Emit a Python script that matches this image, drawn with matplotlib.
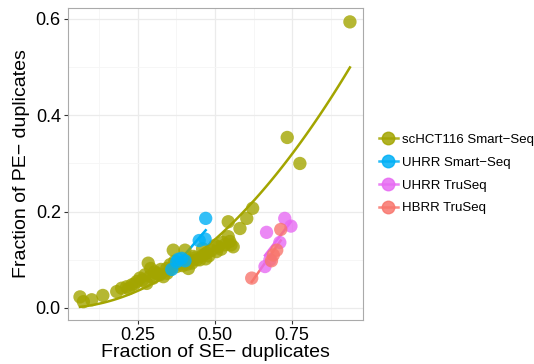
import matplotlib
matplotlib.use("Agg")
import matplotlib.pyplot as plt
from matplotlib.lines import Line2D
import numpy as np

plt.rcParams["font.family"] = ["Liberation Sans", "DejaVu Sans"]

# duplicate fractions per library: x = single-end, y = paired-end
hct_se = [0.063, 0.074, 0.101, 0.137, 0.182, 0.198, 0.214, 0.231, 0.247, 0.257,
          0.274, 0.279, 0.284, 0.300, 0.311, 0.322, 0.333, 0.344, 0.354, 0.365,
          0.376, 0.387, 0.403, 0.414, 0.425, 0.430, 0.441, 0.451, 0.462, 0.473,
          0.489, 0.505, 0.511, 0.532, 0.543, 0.548, 0.559, 0.543, 0.581, 0.603,
          0.622, 0.734, 0.775, 0.937, 0.265, 0.290, 0.395, 0.420, 0.480, 0.520,
          0.240, 0.305, 0.355, 0.435, 0.500, 0.292, 0.370, 0.460, 0.525, 0.345,
          0.410, 0.470, 0.552, 0.220, 0.325]
hct_pe = [0.023, 0.013, 0.017, 0.026, 0.034, 0.041, 0.044, 0.048, 0.055, 0.062,
          0.069, 0.051, 0.093, 0.062, 0.072, 0.069, 0.065, 0.082, 0.079, 0.120,
          0.086, 0.093, 0.120, 0.082, 0.093, 0.107, 0.100, 0.100, 0.110, 0.114,
          0.120, 0.117, 0.127, 0.131, 0.148, 0.138, 0.127, 0.179, 0.165, 0.186,
          0.207, 0.354, 0.300, 0.594, 0.058, 0.066, 0.088, 0.098, 0.108, 0.122,
          0.050, 0.075, 0.090, 0.104, 0.130, 0.082, 0.097, 0.123, 0.136, 0.072,
          0.091, 0.102, 0.131, 0.040, 0.080]

uhrr_ss_se = [0.470, 0.449, 0.468, 0.381, 0.403, 0.360, 0.376, 0.392]
uhrr_ss_pe = [0.186, 0.140, 0.143, 0.101, 0.098, 0.080, 0.096, 0.103]

uhrr_ts_se = [0.726, 0.746, 0.667, 0.710, 0.662, 0.678]
uhrr_ts_pe = [0.186, 0.170, 0.157, 0.136, 0.086, 0.100]

hbrr_ts_se = [0.713, 0.700, 0.689, 0.683, 0.619]
hbrr_ts_pe = [0.163, 0.120, 0.110, 0.098, 0.062]

# (label, x, y, colour, trend model)
groups = [
    ("scHCT116 Smart\u2212Seq", hct_se, hct_pe, "#A3A500", "square"),
    ("UHRR Smart\u2212Seq", uhrr_ss_se, uhrr_ss_pe, "#00B0F6", "linear"),
    ("UHRR TruSeq", uhrr_ts_se, uhrr_ts_pe, "#E76BF3", "linear"),
    ("HBRR TruSeq", hbrr_ts_se, hbrr_ts_pe, "#F8766D", "linear"),
]


def trend(xs, ys, model, xx):
    if model == "square":
        # y = c * x^2, least squares through the origin
        c = np.sum(xs ** 2 * ys) / np.sum(xs ** 4)
        return c * xx ** 2
    return np.polyval(np.polyfit(xs, ys, 1), xx)


fig = plt.figure(figsize=(5.34, 3.64), dpi=100)
ax = fig.add_axes([0.127, 0.121, 0.552, 0.857])

handles = []
for label, xs, ys, col, model in groups:
    xs = np.asarray(xs)
    ys = np.asarray(ys)
    xx = np.linspace(xs.min(), xs.max(), 100)
    ax.plot(xx, trend(xs, ys, model, xx), color=col, lw=1.8, zorder=2)
    ax.scatter(xs, ys, s=92, color=col, alpha=0.8, edgecolors="none", zorder=3)
    handles.append(Line2D([0], [0], color=col, lw=1.8, marker="o",
                          markersize=9, alpha=0.85, label=label))

ax.set_xlim(0.0236, 0.978)
ax.set_ylim(-0.0249, 0.6228)
ax.set_xticks([0.25, 0.50, 0.75])
ax.set_xticklabels(["0.25", "0.50", "0.75"])
ax.set_yticks([0.0, 0.2, 0.4, 0.6])
ax.set_yticklabels(["0.0", "0.2", "0.4", "0.6"])
ax.set_xticks([0.125, 0.375, 0.625, 0.875], minor=True)
ax.set_yticks([0.1, 0.3, 0.5], minor=True)
ax.grid(True, which="major", color="#EBEBEB", lw=0.9, zorder=0)
ax.grid(True, which="minor", color="#F5F5F5", lw=0.6, zorder=0)
ax.set_axisbelow(True)
ax.tick_params(which="major", length=3, width=0.8, color="#333333",
               labelsize=13, labelcolor="black", pad=2)
ax.tick_params(which="minor", length=0)
for s in ax.spines.values():
    s.set_color("#AAAAAA")
    s.set_linewidth(0.8)

ax.set_xlabel("Fraction of SE\u2212 duplicates", fontsize=14, labelpad=0)
ax.set_ylabel("Fraction of PE\u2212 duplicates", fontsize=14, labelpad=4)

fig.legend(handles=handles, loc="center left", bbox_to_anchor=(0.70, 0.522),
           frameon=False, fontsize=9.5, handlelength=1.4, handletextpad=0.3,
           labelspacing=0.8, borderaxespad=0)

fig.savefig("out.png", dpi=100, facecolor="white")
